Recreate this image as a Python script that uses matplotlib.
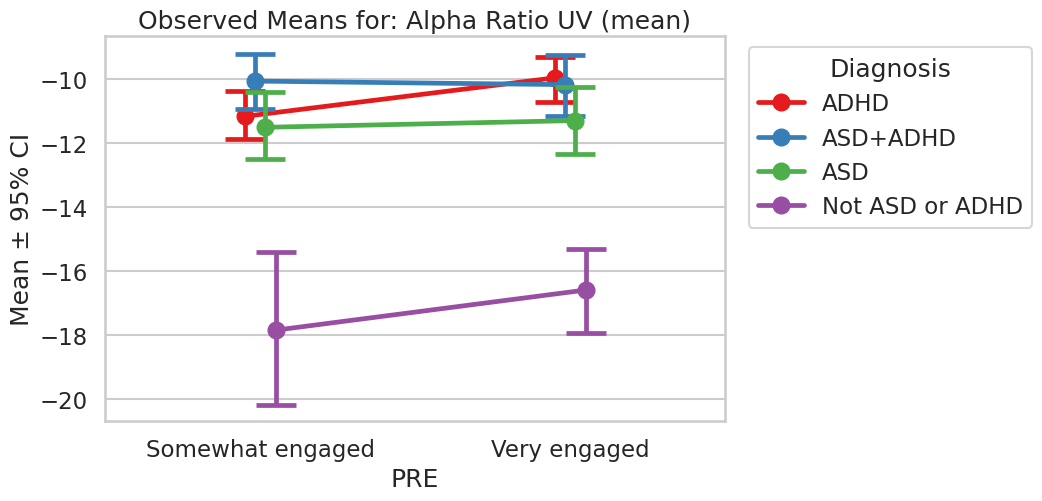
import numpy as np
import matplotlib
matplotlib.use("Agg")
import matplotlib.pyplot as plt
from matplotlib.lines import Line2D
import seaborn as sns

# observed means and 95% CI bounds
categories = ["Somewhat engaged", "Very engaged"]
groups = ["ADHD", "ASD+ADHD", "ASD", "Not ASD or ADHD"]
means = {
    "ADHD": [-11.18, -9.98],
    "ASD+ADHD": [-10.08, -10.19],
    "ASD": [-11.52, -11.31],
    "Not ASD or ADHD": [-17.84, -16.59],
}
ci_low = {
    "ADHD": [-11.88, -10.74],
    "ASD+ADHD": [-10.94, -11.18],
    "ASD": [-12.50, -12.34],
    "Not ASD or ADHD": [-20.17, -17.93],
}
ci_high = {
    "ADHD": [-10.40, -9.32],
    "ASD+ADHD": [-9.25, -9.28],
    "ASD": [-10.43, -10.27],
    "Not ASD or ADHD": [-15.42, -15.31],
}

sns.set_theme(style="whitegrid", context="talk")
colors = sns.color_palette("Set1", len(groups))

fig = plt.figure(figsize=(10.42, 5.02), dpi=100)
ax = fig.add_axes([105 / 1042, 1 - 422 / 502, 620 / 1042, 385 / 502])

x = np.arange(len(categories))
dodge = 0.1
offsets = np.linspace(-dodge / 2, dodge / 2, len(groups))

handles = []
for i, g in enumerate(groups):
    m = np.array(means[g])
    lo = m - np.array(ci_low[g])
    hi = np.array(ci_high[g]) - m
    ax.errorbar(x + offsets[i], m, yerr=[lo, hi], fmt="-o", color=colors[i],
                lw=3.4, elinewidth=3.4, capsize=14.5, capthick=3.4,
                markersize=12, zorder=3 + i)
    handles.append(Line2D([], [], color=colors[i], marker="o", lw=3.4,
                          markersize=12, solid_capstyle="round", label=g))

ax.set_xticks(x)
ax.set_xticklabels(categories)
ax.set_xlim(-0.5, 1.5)
ax.set_ylim(-20.67, -8.675)
ax.set_yticks([-20, -18, -16, -14, -12, -10])
ax.xaxis.grid(False)
ax.set_xlabel("PRE")
ax.set_ylabel("Mean ± 95% CI")
ax.set_title("Observed Means for: Alpha Ratio UV (mean)")
ax.legend(handles=handles, title="Diagnosis", loc="upper left",
          bbox_to_anchor=(1.02, 1))

fig.savefig("out.png", dpi=100)
